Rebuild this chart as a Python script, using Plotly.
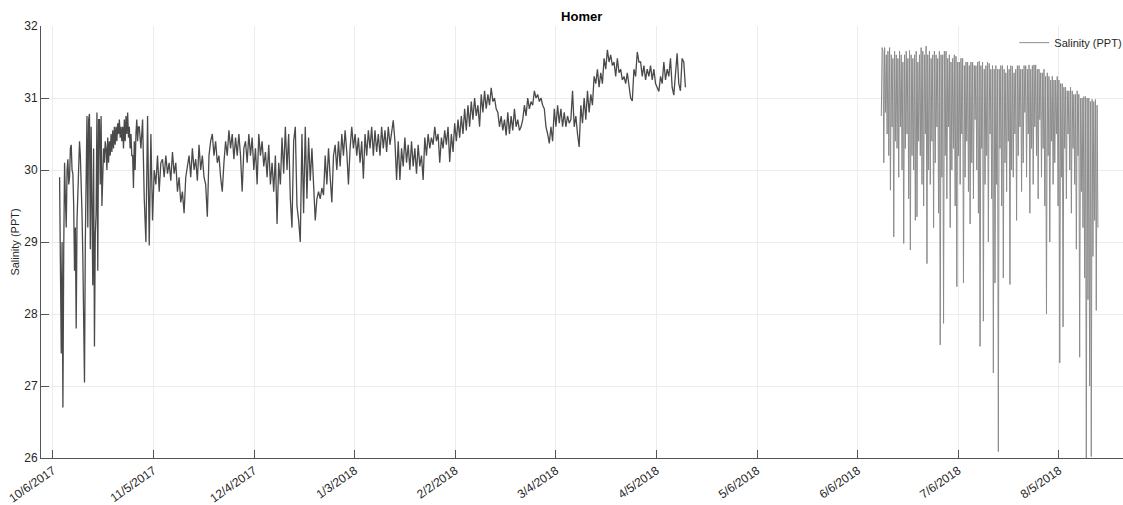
import pandas as pd
import plotly.graph_objects as go

# Homer salinity (PPT), winter deployment.
# October: readings every 6 hours from 2017-10-08 00:00
sal_2017_10 = [
    29.9, 28.5, 27.45, 29.0,    26.7, 28.9, 30.1, 29.6,     # Oct 8-9
    29.2, 30.0, 30.15, 29.8,    29.9, 30.3, 30.35, 30.0,    # Oct 10-11
    29.95, 29.5, 28.6, 29.2,    27.8, 29.3, 29.6, 30.1,     # Oct 12-13
    30.4, 30.2, 29.9, 29.4,     28.8, 28.0, 27.05, 29.0,    # Oct 14-15
    29.7, 30.75, 29.2, 30.7,    30.78, 28.9, 30.6, 29.3,    # Oct 16-17
    28.4, 30.3, 27.55, 29.1,    29.4, 30.8, 28.6, 30.7,     # Oct 18-19
    30.7, 29.8, 30.75, 29.5,    29.9, 30.3, 30.1, 30.4,     # Oct 20-21
    30.3, 30.0, 30.45, 30.1,    30.4, 30.2, 30.5, 30.25,    # Oct 22-23
    30.55, 30.3, 30.6, 30.35,   30.6, 30.4, 30.65, 30.5,    # Oct 24-25
    30.7, 30.45, 30.6, 30.4,    30.6, 30.3, 30.7, 30.4,     # Oct 26-27
    30.75, 30.5, 30.8, 30.45,   30.6, 30.3, 30.5, 30.2,     # Oct 28-29
    30.2, 29.75, 30.4, 30.0,    30.5, 30.7, 30.4, 30.6,     # Oct 30-31
]
# November onward: readings at 00:00 and 12:00
sal_2017_11 = [
    30.6, 30.3, 30.7, 29.6, 29.0, 30.75, 28.95, 30.5, 29.3, 30.0,
    29.8, 30.2, 29.7, 30.1, 30.15, 29.9, 30.2, 29.95, 30.1, 29.85,
    30.25, 29.95, 30.1, 29.7, 29.9, 29.55, 29.7, 29.4, 29.9, 30.05,
    30.2, 29.9, 30.3, 30.0, 30.15, 29.85, 30.35, 30.0, 30.2, 29.9,
    29.8, 29.35, 30.2, 30.4, 30.5, 30.2, 30.4, 30.1, 30.2, 29.9,
    29.7, 30.1, 30.4, 30.2, 30.55, 30.3, 30.5, 30.15, 30.45, 30.2,
]
sal_2017_12 = [
    30.5, 30.2, 29.7, 30.3, 30.4, 30.1, 30.5, 30.2, 30.45, 30.0,
    30.3, 29.8, 30.5, 30.2, 30.4, 30.05, 30.25, 29.9, 30.35, 29.8,
    30.1, 29.7, 30.2, 29.25, 30.1, 29.8, 30.45, 29.95, 30.6, 30.0,
    30.5, 29.6, 29.2, 30.4, 30.6, 29.5, 29.3, 29.0, 30.5, 29.4,
    30.6, 29.6, 30.45, 29.85, 30.3, 29.8, 29.3, 29.6, 29.7, 29.6,
    29.75, 29.65, 30.2, 29.8, 30.3, 29.9, 29.55, 30.2, 30.35, 30.0,
    30.4, 30.05,
]
sal_2018_01 = [
    30.5, 30.2, 30.55, 30.25, 29.8, 30.3, 30.6, 30.3, 30.5, 30.2,
    30.45, 30.1, 30.4, 29.88, 30.5, 30.2, 30.55, 30.3, 30.6, 30.2,
    30.55, 30.25, 30.5, 30.2, 30.6, 30.3, 30.55, 30.25, 30.6, 30.35,
    30.5, 30.69, 30.4, 29.86, 30.4, 29.86, 30.3, 30.05, 30.45, 30.1,
    30.35, 30.0, 30.4, 30.05, 30.3, 29.95, 30.35, 30.05, 30.2, 29.86,
    30.45, 30.2, 30.5, 30.3, 30.45, 30.35, 30.6, 30.4, 30.5, 30.1,
    30.45, 30.3,
]
sal_2018_02 = [
    30.55, 30.35, 30.6, 30.11, 30.5, 30.25, 30.65, 30.4, 30.7, 30.45,
    30.75, 30.5, 30.85, 30.55, 30.9, 30.6, 30.95, 30.7, 31.0, 30.75,
    30.9, 30.6, 31.05, 30.8, 31.1, 30.85, 31.05, 30.9, 31.14, 30.95,
    31.0, 30.85, 30.8, 30.6, 30.75, 30.55, 30.7, 30.48, 30.8, 30.5,
    30.75, 30.55, 30.85, 30.6, 30.7, 30.55, 30.6, 30.7, 30.9, 30.75,
    31.0, 30.85, 30.95, 30.9, 31.1, 31.0,
]
sal_2018_03 = [
    31.05, 30.95, 31.0, 30.9, 30.85, 30.6, 30.5, 30.37, 30.6, 30.4,
    30.85, 30.6, 30.9, 30.65, 30.85, 30.6, 30.8, 30.6, 30.75, 30.65,
    30.7, 31.1, 30.6, 30.75, 30.5, 30.32, 30.9, 30.65, 31.0, 30.7,
    31.1, 30.8, 31.05, 30.9, 31.3, 31.2, 31.4, 31.15, 31.35, 31.2,
    31.55, 31.4, 31.67, 31.5, 31.6, 31.45, 31.5, 31.3, 31.55, 31.35,
    31.4, 31.25, 31.3, 31.2, 31.35, 31.15, 31.0, 30.96, 31.4, 31.3,
    31.64, 31.5,
]
sal_2018_04 = [
    31.5, 31.3, 31.45, 31.25, 31.4, 31.3, 31.45, 31.25, 31.4, 31.2,
    31.15, 31.09, 31.3, 31.2, 31.5, 31.25, 31.4, 31.3, 31.55, 31.15,
    31.04, 31.4, 31.62, 31.2, 31.1, 31.55, 31.5, 31.15,
]

# Summer deployment: readings every 6 hours, starting 2018-06-12 12:00
sal_2018_06 = [
    30.75, 31.7,
    31.65, 30.1, 31.7, 30.8,    31.6, 30.5, 31.65, 30.2,
    31.7, 29.72, 31.6, 30.6,    31.55, 29.07, 31.65, 30.4,
    31.6, 30.3, 31.55, 29.9,    31.65, 30.6, 31.6, 30.0,
    31.5, 28.98, 31.6, 30.3,    31.65, 30.5, 31.55, 29.6,
    31.66, 28.89, 31.6, 30.2,   31.55, 30.0, 31.6, 29.3,
    31.65, 29.35, 31.5, 30.4,   31.6, 30.2, 31.7, 29.8,
    31.65, 29.5, 31.6, 30.5,    31.72, 28.7, 31.6, 30.0,
    31.65, 29.8, 31.55, 30.4,   31.6, 29.2, 31.65, 30.1,
    31.6, 30.6, 31.55, 29.4,    31.65, 27.57, 31.6, 29.9,
]
sal_2018_07 = [
    31.6, 27.87, 31.65, 30.2,   31.65, 29.6, 31.55, 30.6,
    31.6, 29.2, 31.5, 30.0,     31.55, 30.3, 31.6, 29.5,
    31.58, 28.38, 31.5, 30.2,   31.5, 29.8, 31.55, 30.5,
    31.55, 28.43, 31.45, 29.9,  31.5, 30.4, 31.5, 29.7,
    31.45, 29.25, 31.5, 30.1,   31.5, 29.6, 31.45, 30.7,
    31.45, 30.0, 31.5, 29.4,    31.51, 27.55, 31.45, 30.3,
    31.5, 27.9, 31.4, 29.8,     31.45, 30.2, 31.5, 29.0,
    31.48, 30.5, 31.4, 29.6,    31.45, 27.18, 31.4, 28.43,
    31.45, 29.8, 31.4, 26.09,   31.4, 30.3, 31.45, 29.5,
    31.45, 28.5, 31.4, 30.1,    31.35, 29.7, 31.45, 30.4,
    31.4, 28.41, 31.45, 30.0,   31.44, 29.9, 31.35, 30.5,
    31.4, 29.3, 31.45, 30.2,    31.45, 30.6, 31.4, 29.7,
    31.4, 30.1, 31.45, 30.8,    31.45, 29.9, 31.4, 30.5,
    31.46, 29.4, 31.4, 30.3,    31.45, 29.8, 31.46, 30.6,
    31.46, 30.2, 31.4, 29.6,    31.4, 30.7, 31.35, 29.9,
    31.35, 30.3, 31.4, 29.5,
]
sal_2018_08 = [
    31.3, 28.0, 31.35, 30.2,    31.3, 29.0, 31.25, 30.4,
    31.3, 29.8, 31.25, 30.1,    31.25, 30.5, 31.3, 29.5,
    31.25, 27.32, 31.2, 29.9,   31.2, 27.82, 31.15, 30.3,
    31.15, 29.6, 31.1, 30.5,    31.1, 30.0, 31.15, 29.4,
    31.1, 30.3, 31.05, 29.8,    31.05, 28.9, 31.1, 30.2,
    31.05, 27.4, 31.0, 29.7,    31.0, 29.2, 31.02, 28.5,
    31.02, 26.0, 31.0, 28.2,    31.0, 27.0, 30.95, 26.02,
    30.98, 28.8, 30.95, 29.3,   30.98, 28.05, 30.9, 29.2,
]

tick_labels = ["10/6/2017", "11/5/2017", "12/4/2017", "1/3/2018", "2/2/2018",
               "3/4/2018", "4/5/2018", "5/6/2018", "6/6/2018", "7/6/2018", "8/5/2018"]


def stamps(start, freq, values):
    return list(pd.date_range(start, periods=len(values), freq=freq))


winter_rest = (sal_2017_11 + sal_2017_12 + sal_2018_01
               + sal_2018_02 + sal_2018_03 + sal_2018_04)
t_winter = stamps("2017-10-08 00:00", "6h", sal_2017_10) + \
    stamps("2017-11-01 00:00", "12h", winter_rest)
y_winter = sal_2017_10 + winter_rest

summer = sal_2018_06 + sal_2018_07 + sal_2018_08
t_summer = stamps("2018-06-12 12:00", "6h", summer)

# date ticks evenly spaced across the record
t0 = pd.Timestamp("2017-10-06")
step = pd.Timedelta(days=30.3)
tick_vals = [t0 + k * step for k in range(len(tick_labels))]
x_lo = t0 - pd.Timedelta(days=3.6)
x_hi = t0 + pd.Timedelta(days=322.3)

fig = go.Figure()
fig.add_trace(go.Scatter(
    x=t_winter, y=y_winter, mode="lines", name="Salinity (PPT)",
    line=dict(color="#4a4a4a", width=1.3), showlegend=False,
))
fig.add_trace(go.Scatter(
    x=t_summer, y=summer, mode="lines", name="Salinity (PPT)",
    line=dict(color="#8c8c8c", width=1),
))

font_family = "Liberation Sans, Arial, Helvetica, sans-serif"
fig.update_layout(
    width=1123, height=505,
    margin=dict(l=41, r=0, t=26, b=47, autoexpand=False),
    paper_bgcolor="white", plot_bgcolor="white",
    font=dict(family=font_family, size=12, color="#262626"),
    title=dict(text="<b>Homer</b>", x=0.518, xanchor="center",
               y=1 - 16 / 505, yanchor="middle",
               font=dict(size=13, color="#000000")),
    showlegend=True,
    legend=dict(x=1.004, xanchor="right", y=0.995, yanchor="top",
                bgcolor="rgba(0,0,0,0)", borderwidth=0,
                font=dict(size=11, color="#262626")),
    xaxis=dict(
        type="date", range=[x_lo, x_hi],
        tickmode="array", tickvals=tick_vals, ticktext=tick_labels,
        tickangle=-35, tickfont=dict(size=12),
        ticks="inside", ticklen=8, tickcolor="#555555",
        showgrid=True, gridcolor="#ececec", gridwidth=1,
        showline=True, linecolor="#555555", linewidth=1,
        zeroline=False, mirror=False,
    ),
    yaxis=dict(
        range=[26, 32], tickvals=[26, 27, 28, 29, 30, 31, 32],
        tickfont=dict(size=12),
        ticks="inside", ticklen=8, tickcolor="#555555",
        showgrid=True, gridcolor="#ececec", gridwidth=1,
        showline=True, linecolor="#555555", linewidth=1,
        zeroline=False, mirror=False,
        title=dict(text="Salinity (PPT)", font=dict(size=11), standoff=2),
    ),
)

fig.write_html("out.html")
